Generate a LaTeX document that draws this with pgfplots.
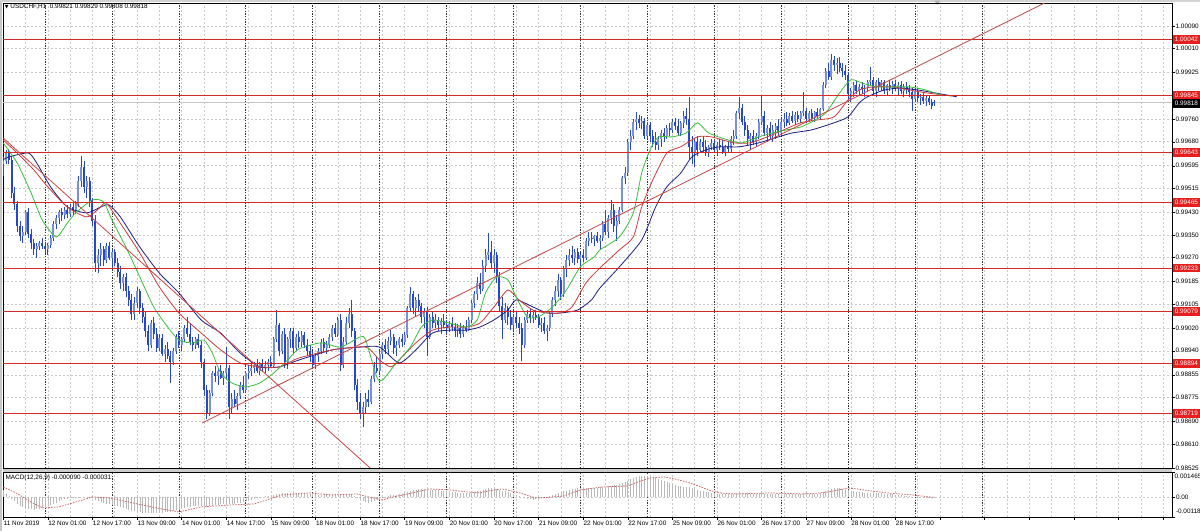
\documentclass[border=0pt]{standalone}
\usepackage{fontspec}
\setmainfont{Liberation Sans}
\newfontfamily\symfont{DejaVu Sans}
\usepackage{pgfplots}
\usepackage{pgfplotstable}
\pgfplotsset{compat=1.18}
\definecolor{bear}{RGB}{40,70,200}
\definecolor{bull}{RGB}{120,145,220}
\definecolor{malips}{RGB}{60,190,60}
\definecolor{mateeth}{RGB}{200,60,60}
\definecolor{majaw}{RGB}{30,30,130}
\definecolor{lvlred}{RGB}{215,40,40}
\definecolor{trendred}{RGB}{200,70,70}
\definecolor{gridc}{RGB}{200,200,200}
\definecolor{sigred}{RGB}{200,100,100}
\definecolor{histgray}{RGB}{185,185,185}
\definecolor{labred}{RGB}{230,30,30}
\newcommand\tf{\fontsize{4.8}{5.6}\selectfont}

\pgfplotstableread{
i o h l c m
0 99600 99625 99560 99610 400
1 99610 99650 99600 99640 200
2 99640 99655 99600 99615 50
3 99615 99630 99480 99500 -100
4 99500 99520 99440 99460 -250
5 99460 99470 99360 99380 -400
6 99380 99400 99330 99345 -520
7 99345 99380 99320 99360 -620
8 99360 99440 99350 99430 -650
9 99430 99445 99340 99355 -700
10 99355 99370 99300 99320 -720
11 99320 99335 99280 99300 -740
12 99300 99320 99270 99310 -720
13 99310 99330 99295 99320 -690
14 99320 99340 99300 99310 -650
15 99310 99325 99285 99300 -600
16 99300 99320 99280 99315 -540
17 99315 99350 99305 99340 -470
18 99340 99400 99330 99390 -400
19 99390 99420 99370 99410 -330
20 99410 99440 99390 99430 -260
21 99430 99445 99400 99420 -200
22 99420 99450 99405 99440 -150
23 99440 99455 99410 99425 -100
24 99425 99460 99415 99450 -70
25 99450 99465 99420 99435 -50
26 99435 99470 99425 99460 -30
27 99460 99560 99450 99540 -20
28 99540 99630 99520 99590 0
29 99590 99610 99500 99520 20
30 99520 99560 99480 99540 10
31 99540 99555 99450 99470 -30
32 99470 99480 99380 99400 -90
33 99400 99420 99220 99250 -180
34 99250 99300 99215 99280 -260
35 99280 99320 99240 99300 -320
36 99300 99310 99240 99260 -360
37 99260 99320 99250 99310 -400
38 99310 99325 99260 99270 -440
39 99270 99300 99230 99290 -480
40 99290 99300 99240 99250 -520
41 99250 99270 99200 99220 -560
42 99220 99240 99160 99180 -600
43 99180 99210 99150 99200 -650
44 99200 99215 99130 99150 -700
45 99150 99170 99100 99120 -750
46 99120 99140 99050 99070 -800
47 99070 99130 99050 99110 -850
48 99110 99165 99090 99150 -880
49 99150 99160 99070 99090 -900
50 99090 99110 99040 99060 -920
51 99060 99080 98990 99010 -940
52 99010 99030 98940 98960 -960
53 98960 99050 98950 99040 -950
54 99040 99060 98980 99000 -960
55 99000 99020 98935 98950 -970
56 98950 99000 98940 98985 -950
57 98985 99000 98920 98930 -930
58 98930 98960 98900 98945 -910
59 98945 98970 98910 98920 -880
60 98920 98940 98825 98900 -860
61 98900 98950 98890 98940 -820
62 98940 99000 98930 98990 -780
63 98990 99010 98950 98960 -740
64 98960 98990 98940 98980 -700
65 98980 99030 98970 99020 -660
66 99020 99060 98990 99000 -620
67 99000 99040 98960 98970 -580
68 98970 98990 98940 98960 -560
69 98960 98990 98945 98980 -540
70 98980 99000 98950 98960 -520
71 98960 98975 98880 98900 -520
72 98900 98910 98780 98800 -540
73 98800 98820 98700 98720 -580
74 98720 98800 98710 98790 -560
75 98790 98870 98780 98860 -530
76 98860 98885 98830 98850 -500
77 98850 98880 98820 98870 -470
78 98870 98890 98840 98845 -440
79 98845 98870 98820 98860 -420
80 98860 98955 98840 98880 -400
81 98880 98890 98700 98740 -420
82 98740 98790 98720 98770 -420
83 98770 98800 98740 98750 -400
84 98750 98790 98730 98780 -380
85 98780 98830 98770 98820 -340
86 98820 98850 98790 98800 -300
87 98800 98870 98790 98860 -250
88 98860 98890 98840 98870 -200
89 98870 98900 98850 98880 -160
90 98880 98900 98860 98890 -120
91 98890 98910 98860 98870 -80
92 98870 98900 98855 98895 -40
93 98895 98910 98870 98880 0
94 98880 98905 98860 98890 40
95 98890 98910 98870 98900 70
96 98900 98920 98880 98885 100
97 98885 98990 98880 98980 140
98 98980 99085 98970 99030 180
99 99030 99040 98920 98940 200
100 98940 99010 98930 99000 210
101 99000 99020 98880 98900 210
102 98900 98990 98875 98980 220
103 98980 99020 98950 99010 220
104 99010 99020 98930 98950 230
105 98950 99000 98940 98990 230
106 98990 99010 98950 98970 225
107 98970 99010 98955 98995 220
108 98995 99005 98950 98960 210
109 98960 98980 98920 98940 200
110 98940 98960 98900 98920 180
111 98920 98940 98880 98890 160
112 98890 98930 98875 98920 150
113 98920 98950 98900 98940 140
114 98940 98980 98930 98970 140
115 98970 98985 98935 98950 150
116 98950 98975 98930 98960 160
117 98960 99000 98950 98990 170
118 98990 99030 98975 99020 180
119 99020 99040 98990 99000 190
120 99000 99060 98990 99050 200
121 99050 99070 98870 98890 160
122 98890 98990 98880 98970 140
123 98970 99060 98960 99040 150
124 99040 99090 99020 99070 170
125 99070 99120 98990 99010 180
126 99010 99020 98800 98820 60
127 98820 98840 98730 98760 -40
128 98760 98790 98700 98720 -150
129 98720 98760 98670 98740 -250
130 98740 98790 98720 98770 -320
131 98770 98800 98740 98760 -340
132 98760 98850 98750 98840 -320
133 98840 98900 98830 98880 -260
134 98880 98920 98860 98870 -180
135 98870 98940 98860 98930 -100
136 98930 98970 98910 98960 -30
137 98960 98980 98930 98945 20
138 98945 98990 98930 98975 60
139 98975 99015 98960 98990 100
140 98990 99000 98930 98950 130
141 98950 98975 98920 98960 140
142 98960 98990 98950 98980 170
143 98980 99000 98955 98970 200
144 98970 99005 98960 98995 240
145 98995 99100 98985 99090 300
146 99090 99165 99080 99140 350
147 99140 99150 99070 99090 390
148 99090 99130 99060 99120 420
149 99120 99140 99080 99100 440
150 99100 99110 99040 99060 450
151 99060 99090 99020 99080 450
152 99080 99095 98920 98990 430
153 98990 99070 98980 99060 420
154 99060 99080 99020 99040 410
155 99040 99070 99020 99050 400
156 99050 99060 99010 99030 390
157 99030 99055 99000 99045 370
158 99045 99070 99020 99030 350
159 99030 99050 99000 99020 330
160 99020 99045 99005 99035 310
161 99035 99060 99010 99025 290
162 99025 99040 98990 99010 270
163 99010 99035 98990 99020 250
164 99020 99040 98985 99000 230
165 99000 99030 98990 99025 220
166 99025 99050 99005 99015 210
167 99015 99060 99010 99050 220
168 99050 99120 99040 99110 240
169 99110 99150 99090 99140 280
170 99140 99200 99120 99180 330
171 99180 99215 99140 99160 370
172 99160 99260 99150 99240 420
173 99240 99300 99220 99280 470
174 99280 99357 99260 99290 510
175 99290 99330 99230 99250 520
176 99250 99300 99215 99280 510
177 99280 99290 99180 99200 480
178 99200 99220 99080 99100 430
179 99100 99130 98980 99050 370
180 99050 99110 99040 99090 320
181 99090 99100 99030 99060 270
182 99060 99085 99015 99030 220
183 99030 99070 99010 99060 170
184 99060 99080 99020 99040 120
185 99040 99060 99000 99020 60
186 99020 99040 98905 98960 0
187 98960 99060 98950 99050 -60
188 99050 99085 99040 99070 -110
189 99070 99090 99040 99055 -150
190 99055 99080 99040 99065 -160
191 99065 99085 99050 99060 -150
192 99060 99070 99020 99030 -120
193 99030 99055 99005 99040 -80
194 99040 99060 99000 99010 -30
195 99010 99030 98975 99020 20
196 99020 99080 99010 99070 70
197 99070 99130 99060 99120 120
198 99120 99170 99100 99150 170
199 99150 99210 99130 99190 220
200 99190 99200 99120 99140 270
201 99140 99240 99130 99230 320
202 99230 99280 99200 99260 370
203 99260 99300 99240 99280 410
204 99280 99310 99250 99270 450
205 99270 99300 99245 99290 480
206 99290 99305 99250 99265 500
207 99265 99290 99240 99280 520
208 99280 99300 99255 99270 530
209 99270 99340 99260 99330 540
210 99330 99360 99310 99340 545
211 99340 99360 99320 99335 540
212 99335 99350 99310 99345 545
213 99345 99360 99320 99330 550
214 99330 99350 99300 99340 560
215 99340 99400 99330 99390 570
216 99390 99440 99350 99360 590
217 99360 99420 99340 99410 620
218 99410 99475 99390 99440 650
219 99440 99460 99360 99380 680
220 99380 99420 99330 99400 700
221 99400 99450 99390 99440 740
222 99440 99560 99430 99550 800
223 99550 99590 99530 99570 870
224 99570 99690 99560 99680 950
225 99680 99720 99650 99700 1040
226 99700 99760 99690 99750 1120
227 99750 99785 99720 99760 1180
228 99760 99775 99730 99745 1220
229 99745 99770 99725 99755 1240
230 99755 99765 99690 99700 1240
231 99700 99750 99690 99740 1230
232 99740 99750 99680 99700 1200
233 99700 99720 99660 99680 1160
234 99680 99715 99650 99670 1110
235 99670 99700 99650 99690 1050
236 99690 99720 99660 99710 990
237 99710 99730 99680 99700 930
238 99700 99740 99690 99730 870
239 99730 99745 99700 99720 810
240 99720 99760 99710 99750 760
241 99750 99765 99720 99735 710
242 99735 99760 99700 99710 660
243 99710 99755 99700 99745 620
244 99745 99790 99730 99770 600
245 99770 99800 99740 99760 590
246 99760 99840 99620 99660 560
247 99660 99700 99600 99640 500
248 99640 99690 99590 99680 450
249 99680 99700 99630 99650 410
250 99650 99690 99640 99680 370
251 99680 99700 99640 99660 330
252 99660 99685 99630 99640 300
253 99640 99670 99625 99660 270
254 99660 99690 99650 99675 240
255 99675 99685 99640 99650 220
256 99650 99680 99630 99670 200
257 99670 99690 99650 99660 190
258 99660 99685 99635 99645 180
259 99645 99670 99630 99665 180
260 99665 99680 99645 99655 180
261 99655 99700 99645 99690 190
262 99690 99720 99670 99700 200
263 99700 99790 99690 99780 230
264 99780 99840 99760 99800 250
265 99800 99815 99740 99750 250
266 99750 99770 99700 99720 240
267 99720 99740 99670 99690 220
268 99690 99710 99650 99700 200
269 99700 99720 99670 99680 190
270 99680 99710 99660 99700 180
271 99700 99760 99690 99750 190
272 99750 99845 99740 99770 210
273 99770 99790 99700 99710 200
274 99710 99740 99680 99730 190
275 99730 99750 99690 99700 180
276 99700 99740 99680 99720 180
277 99720 99745 99690 99735 180
278 99735 99760 99700 99710 180
279 99710 99760 99700 99750 190
280 99750 99780 99730 99760 190
281 99760 99785 99735 99745 190
282 99745 99780 99740 99770 190
283 99770 99790 99745 99755 190
284 99755 99785 99740 99775 190
285 99775 99790 99750 99760 200
286 99760 99790 99745 99780 200
287 99780 99856 99770 99790 210
288 99790 99800 99745 99760 210
289 99760 99790 99750 99780 200
290 99780 99795 99755 99765 200
291 99765 99790 99750 99785 200
292 99785 99800 99760 99770 200
293 99770 99800 99760 99795 210
294 99795 99890 99790 99880 260
295 99880 99940 99870 99930 340
296 99930 99960 99900 99910 410
297 99910 99990 99900 99970 470
298 99970 99985 99930 99950 500
299 99950 99975 99920 99960 510
300 99960 99980 99925 99940 500
301 99940 99960 99910 99930 480
302 99930 99950 99900 99915 450
303 99915 99925 99830 99850 400
304 99850 99870 99820 99860 360
305 99860 99890 99840 99880 330
306 99880 99895 99850 99860 300
307 99860 99885 99845 99875 280
308 99875 99890 99850 99865 260
309 99865 99880 99840 99870 250
310 99870 99900 99855 99890 240
311 99890 99945 99880 99900 250
312 99900 99910 99845 99860 240
313 99860 99900 99840 99890 230
314 99890 99905 99860 99875 220
315 99875 99900 99860 99890 210
316 99890 99900 99850 99860 200
317 99860 99885 99845 99880 190
318 99880 99900 99860 99870 180
319 99870 99895 99850 99885 160
320 99885 99900 99860 99870 140
321 99870 99890 99845 99880 120
322 99880 99895 99850 99860 100
323 99860 99885 99840 99875 80
324 99875 99890 99850 99865 60
325 99865 99880 99840 99855 40
326 99855 99870 99790 99830 20
327 99830 99870 99820 99860 0
328 99860 99870 99820 99835 -10
329 99835 99850 99810 99840 -20
330 99840 99855 99815 99825 -40
331 99825 99845 99805 99835 -50
332 99835 99845 99810 99820 -60
333 99820 99830 99795 99805 -75
334 99821 99829 99808 99818 -90
}\candles

\begin{document}
\begin{tikzpicture}[x=1pt,y=1pt]
\useasboundingbox (0,0) rectangle (900,398.25);
\fill[white] (0,0) rectangle (900,398.25);
\fill[gray!45] (0,0) rectangle (1.6,398.25);
\fill[gray!35] (0,396.6) rectangle (900,398.25);
\fill[gray!40] (2.25,44.25) rectangle (879,47.25);
\fill[gray!60] (700.5,397.8) -- (705.5,397.8) -- (703,394.6) -- cycle;

\begin{axis}[name=main, at={(2.25pt,47.25pt)}, anchor=south west,
  scale only axis, width=876.75pt, height=348.75pt,
  xmin=-0.07, xmax=419.2, ymin=98525, ymax=100171,
  scaled y ticks=false, scaled x ticks=false,
  axis line style={black, line width=0.4pt},
  xtick={0,8,...,416}, xticklabels={}, xtick style={draw=none},
  ytick={98525,98610,98690,98775,98855,98940,99020,99105,99185,99270,99350,99430,99515,99595,99680,99760,99845,99925,100010,100090},
  yticklabels={0.98525,0.98610,0.98690,0.98775,0.98855,0.98940,0.99020,0.99105,0.99185,0.99270,0.99350,0.99430,0.99515,0.99595,0.99680,0.99760,0.99845,0.99925,1.00010,1.00090},
  ytick pos=right, yticklabel pos=right, ytick align=outside, major tick length=2pt,
  ytick style={black, line width=0.3pt},
  yticklabel style={font=\tf, anchor=west, inner sep=0.5pt},
  grid=major, major grid style={draw=gridc, dash pattern=on 1.5pt off 1.5pt, line width=0.35pt},
  clip=true]
\pgfplotsinvokeforeach{15,39,63,87,111,135,159,183,207,231,255,279,303,327,351}{
  \draw[black!80, line width=0.5pt, dash pattern=on 0.9pt off 1.1pt] (axis cs:#1,98525) -- (axis cs:#1,100171);
}
% bid line
\addplot[draw=gray!45, line width=0.5pt, mark=none, forget plot] coordinates {(-5,99818) (430,99818)};
% candles: wicks (low to high)
\addplot[draw=bear, line width=0.55pt, mark=none, forget plot,
  quiver={u={0}, v={\thisrow{h}-\thisrow{l}}}] table[x=i, y=l] {\candles};
% bull bodies (open to close, rising)
\addplot[draw=bull, line width=1.5pt, mark=none, forget plot,
  quiver={u={0}, v={max(\thisrow{c}-\thisrow{o},0)}}] table[x=i, y=o] {\candles};
% bear bodies (open to close, falling)
\addplot[draw=bear, line width=1.5pt, mark=none, forget plot,
  quiver={u={0}, v={min(\thisrow{c}-\thisrow{o},0)}}] table[x=i, y=o] {\candles};
% Alligator jaw (blue)
\addplot[draw=majaw, line width=0.6pt, smooth, tension=0.4, mark=none] coordinates {
(0,99616)(2,99626)(9,99640)(12,99605)(17,99520)(23,99449)(30,99428)(35,99449)(38,99456)(42,99414)(49,99307)(56,99215)(63,99145)(71,99049)(78,99003)(85,98932)(92,98883)(99,98883)(106,98907)(118,98943)(128,98953)(135,98953)(142,98897)(148,98943)(154,99003)(160,99013)(166,99013)(171,99024)(176,99049)(181,99084)(184,99120)(190,99095)(195,99074)(200,99074)(206,99084)(211,99120)(214,99162)(221,99237)(229,99332)(234,99449)(238,99520)(243,99569)(247,99626)(252,99651)(257,99662)(264,99662)(271,99676)(278,99697)(283,99711)(290,99722)(298,99747)(303,99768)(307,99817)(310,99839)(316,99863)(322,99870)(328,99863)(334,99853)(342,99839)};
% Alligator teeth (red)
\addplot[draw=mateeth, line width=0.6pt, smooth, tension=0.4, mark=none] coordinates {
(0,99686)(5,99640)(11,99580)(16,99520)(23,99449)(30,99414)(35,99449)(37,99463)(42,99392)(49,99286)(56,99166)(63,99074)(71,99003)(78,98943)(85,98897)(92,98883)(99,98883)(106,98914)(118,98943)(130,98953)(135,98907)(139,98883)(142,98907)(148,98968)(154,99013)(160,99024)(166,99024)(171,99038)(176,99095)(181,99155)(185,99120)(190,99084)(195,99074)(200,99074)(204,99095)(209,99180)(214,99233)(221,99297)(226,99343)(229,99449)(233,99545)(238,99640)(243,99662)(249,99697)(254,99697)(262,99676)(268,99676)(274,99697)(280,99722)(286,99747)(292,99757)(298,99768)(303,99828)(307,99863)(312,99874)(319,99874)(325,99863)(331,99853)(340,99842)};
% Alligator lips (green)
\addplot[draw=malips, line width=0.6pt, smooth, tension=0.4, mark=none] coordinates {
(0,99676)(5,99605)(10,99499)(14,99403)(19,99343)(23,99392)(26,99428)(32,99474)(36,99467)(39,99403)(44,99307)(49,99201)(54,99095)(59,99024)(63,98978)(68,98967)(72,98978)(75,98932)(78,98861)(82,98826)(87,98812)(92,98826)(97,98861)(102,98907)(106,98946)(114,98968)(121,98953)(128,98989)(130,98978)(134,98847)(136,98836)(141,98897)(146,98953)(150,99024)(154,99049)(160,99038)(166,99024)(170,99049)(173,99145)(177,99201)(181,99191)(184,99130)(188,99060)(192,99060)(197,99095)(202,99155)(207,99237)(212,99272)(214,99297)(221,99343)(226,99428)(229,99569)(232,99651)(235,99697)(240,99697)(245,99711)(249,99747)(253,99711)(260,99686)(265,99676)(271,99697)(276,99711)(281,99722)(286,99732)(290,99750)(295,99782)(300,99853)(304,99899)(308,99888)(313,99874)(319,99874)(325,99874)(331,99863)(337,99842)};
% horizontal levels
\addplot[draw=lvlred, line width=0.7pt, mark=none] coordinates {(-5,100042) (430,100042)};
\addplot[draw=lvlred, line width=0.7pt, mark=none] coordinates {(-5,99845) (430,99845)};
\addplot[draw=lvlred, line width=0.7pt, mark=none] coordinates {(-5,99643) (430,99643)};
\addplot[draw=lvlred, line width=0.7pt, mark=none] coordinates {(-5,99465) (430,99465)};
\addplot[draw=lvlred, line width=0.7pt, mark=none] coordinates {(-5,99233) (430,99233)};
\addplot[draw=lvlred, line width=0.7pt, mark=none] coordinates {(-5,99079) (430,99079)};
\addplot[draw=lvlred, line width=0.7pt, mark=none] coordinates {(-5,98894) (430,98894)};
\addplot[draw=lvlred, line width=0.7pt, mark=none] coordinates {(-5,98719) (430,98719)};
% trend lines
\addplot[draw=trendred, line width=0.6pt, mark=none] coordinates {(0,99693) (131.6,98525)};
\addplot[draw=trendred, line width=0.6pt, mark=none] coordinates {(71.3,98684) (373.5,100171)};
\coordinate (R1) at (axis cs:419.2,100042);
\coordinate (R2) at (axis cs:419.2,99845);
\coordinate (R3) at (axis cs:419.2,99643);
\coordinate (R4) at (axis cs:419.2,99465);
\coordinate (R5) at (axis cs:419.2,99233);
\coordinate (R6) at (axis cs:419.2,99079);
\coordinate (R7) at (axis cs:419.2,98894);
\coordinate (R8) at (axis cs:419.2,98719);
\coordinate (RB) at (axis cs:419.2,99818);
\end{axis}

\tikzset{redlab/.style={anchor=west, fill=labred, text=white, font=\tf, inner sep=0.6pt, minimum height=6.6pt, minimum width=20pt}}
\node[redlab] at ([xshift=0.6pt]R1) {1.00042};
\node[redlab] at ([xshift=0.6pt]R2) {0.99845};
\node[redlab] at ([xshift=0.6pt]R3) {0.99643};
\node[redlab] at ([xshift=0.6pt]R4) {0.99465};
\node[redlab] at ([xshift=0.6pt]R5) {0.99233};
\node[redlab] at ([xshift=0.6pt]R6) {0.99079};
\node[redlab] at ([xshift=0.6pt]R7) {0.98894};
\node[redlab] at ([xshift=0.6pt]R8) {0.98719};
\node[redlab, fill=black] at ([xshift=0.6pt,yshift=-0.3pt]RB) {0.99818};

\node[anchor=west, inner sep=0, font=\tf] at (3.5,393) {{\symfont\fontsize{3.6}{4}\selectfont ▼}\ USDCHF,H1\ \ 0.99821 0.99829 0.99808 0.99818};

\begin{axis}[name=macd, at={(2.25pt,10.5pt)}, anchor=south west,
  scale only axis, width=876.75pt, height=33.75pt,
  xmin=-0.07, xmax=419.2, ymin=-1180, ymax=1465,
  scaled y ticks=false, scaled x ticks=false,
  axis line style={black, line width=0.4pt},
  xtick={0,16,...,416},
  xticklabels={11 Nov 2019,12 Nov 01:00,12 Nov 17:00,13 Nov 09:00,14 Nov 01:00,14 Nov 17:00,15 Nov 09:00,18 Nov 01:00,18 Nov 17:00,19 Nov 09:00,20 Nov 01:00,20 Nov 17:00,21 Nov 09:00,22 Nov 01:00,22 Nov 17:00,25 Nov 09:00,26 Nov 01:00,26 Nov 17:00,27 Nov 09:00,28 Nov 01:00,28 Nov 17:00,{},{},{},{},{},{}},
  minor xtick={8,24,...,408},
  xtick pos=left, xtick align=outside, major tick length=2pt,
  xtick style={black, line width=0.3pt}, minor tick length=0pt,
  xticklabel style={font=\tf, anchor=north west, inner sep=0.5pt, xshift=-0.3pt},
  ytick={1465,0,-1180}, yticklabels={}, ytick pos=right, ytick align=outside,
  ytick style={black, line width=0.3pt},
  grid=both, major grid style={draw=gridc, dash pattern=on 1.5pt off 1.5pt, line width=0.35pt},
  minor grid style={draw=gridc, dash pattern=on 1.5pt off 1.5pt, line width=0.35pt}]
\pgfplotsinvokeforeach{15,39,63,87,111,135,159,183,207,231,255,279,303,327,351}{
  \draw[black!80, line width=0.5pt, dash pattern=on 0.9pt off 1.1pt] (axis cs:#1,-1180) -- (axis cs:#1,1465);
}
\addplot[ycomb, draw=histgray, line width=0.4pt, mark=none] table[x=i, y=m] {\candles};
\addplot[draw=sigred, line width=0.55pt, dash pattern=on 1.2pt off 0.9pt, mark=none] coordinates {
(0,588)(5,200)(10,-300)(14,-647)(20,-588)(26,-300)(32,0)(38,-59)(45,-300)(55,-650)(63,-882)(71,-588)(82,-470)(90,-412)(95,-150)(100,118)(110,235)(118,118)(127,176)(131,0)(136,-176)(140,0)(145,176)(153,470)(160,412)(166,300)(171,235)(175,380)(179,470)(185,250)(191,-59)(196,-20)(201,59)(207,412)(215,588)(224,647)(228,900)(232,1117)(237,1176)(241,1050)(245,882)(250,600)(254,353)(258,220)(263,176)(269,200)(275,235)(281,200)(287,176)(292,220)(296,294)(300,420)(303,529)(307,450)(311,353)(318,220)(326,118)(330,40)(334,-31)};
\end{axis}
\node[anchor=west, inner sep=0, font=\tf] at (4,39.6) {MACD(12,26,9) -0.000090 -0.000031};
\node[anchor=west, inner sep=0, font=\tf] at (880.8,41.2) {0.001465};
\node[anchor=west, inner sep=0, font=\tf] at (881.8,25.5) {0.00};
\node[anchor=west, inner sep=0, font=\tf] at (881.8,14.8) {-0.00118};
\end{tikzpicture}
\end{document}
